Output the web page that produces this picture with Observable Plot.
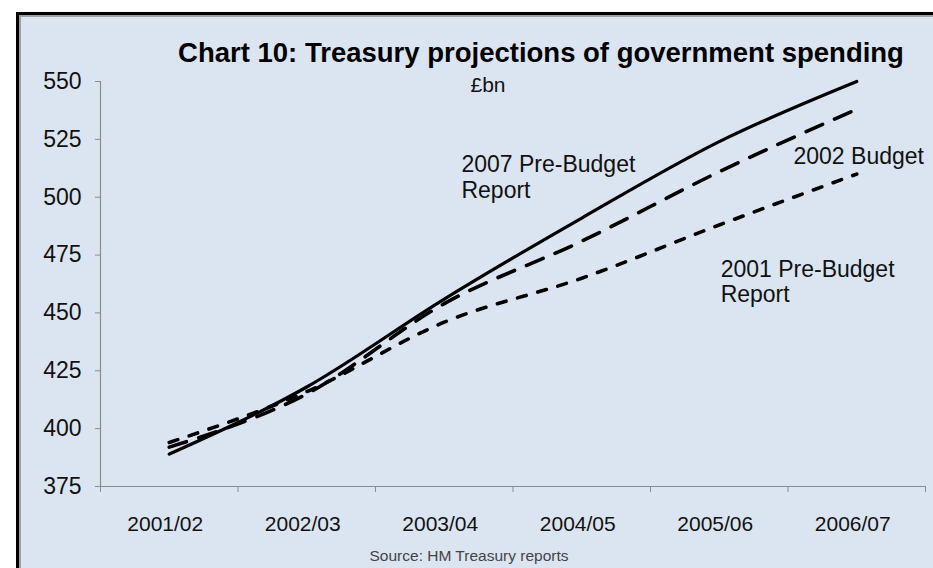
<!DOCTYPE html>
<html><head><meta charset="utf-8">
<script src="https://cdn.jsdelivr.net/npm/d3@7"></script>
<script src="https://cdn.jsdelivr.net/npm/@observablehq/plot@0.6"></script>
<style>
html,body{margin:0;padding:0;background:#fff;width:933px;height:568px;overflow:hidden;}
#panel{position:absolute;left:16px;top:12px;width:930px;height:570px;background:#dbe5f1;border-left:3px solid #000;border-top:3px solid #000;box-shadow:inset 2px 2px 0 #a0a0a0;}
#chart{position:absolute;left:0;top:0;}
</style></head><body><div id="panel"></div><div id="chart"></div>
<script>
const categories = ["2001/02", "2002/03", "2003/04", "2004/05", "2005/06", "2006/07"];
const pbr2007 = [389, 418, 456, 491, 524, 550];
const budget2002 = [392, 415, 454, 481, 511, 538];
const pbr2001 = [394, 416, 446, 465, 488, 510];
const yTicks = [375, 400, 425, 450, 475, 500, 525, 550];
const title = "Chart 10: Treasury projections of government spending";
const unit = "£bn";
const source = "Source: HM Treasury reports";
const labels = [
  {i: 2.125, v: 518.5, text: "2007 Pre-Budget\nReport"},
  {i: 4.54, v: 522, text: "2002 Budget"},
  {i: 4.01, v: 473.3, text: "2001 Pre-Budget\nReport"}
];

const toRows = arr => arr.map((v, i) => ({i, v}));
const boundaries = d3.range(categories.length + 1).map(k => k - 0.5);
const centers = d3.range(categories.length);
const axisGray = "#8c8c8c";

const chart = Plot.plot({
  width: 933,
  height: 568,
  marginLeft: 100,
  marginRight: 8,
  marginTop: 81,
  marginBottom: 82,
  style: {fontFamily: "'Liberation Sans', Arial, sans-serif", background: "transparent", color: "#111"},
  x: {type: "linear", domain: [-0.5, categories.length - 0.5], nice: false},
  y: {domain: [375, 550], nice: false},
  marks: [
    Plot.ruleY([375], {stroke: axisGray, strokeWidth: 1.2}),
    Plot.ruleX([-0.5], {y1: 375, y2: 550, stroke: axisGray, strokeWidth: 1.2}),
    Plot.axisY({ticks: yTicks, tickSize: 5, tickPadding: 14, fontSize: 23, label: null, stroke: axisGray, fill: "#111"}),
    Plot.axisX({ticks: boundaries, tickSize: 6, tickFormat: () => "", label: null, stroke: axisGray}),
    Plot.axisX({ticks: centers, tickSize: 0, tickPadding: 30, dx: -4, tickFormat: i => categories[i], fontSize: 21, label: null, fill: "#111"}),
    Plot.line(toRows(pbr2001), {x: "i", y: "v", curve: "monotone-x", stroke: "#000", strokeWidth: 3.6, strokeDasharray: "9,12", strokeLinecap: "round"}),
    Plot.line(toRows(budget2002), {x: "i", y: "v", curve: "monotone-x", stroke: "#000", strokeWidth: 3.6, strokeDasharray: "18,13", strokeLinecap: "round"}),
    Plot.line(toRows(pbr2007), {x: "i", y: "v", curve: "monotone-x", stroke: "#000", strokeWidth: 3.2, strokeLinecap: "round"}),
    Plot.text(labels, {x: "i", y: "v", text: "text", textAnchor: "start", lineAnchor: "top", fontSize: 23, lineHeight: 1.1, fill: "#111"}),
    Plot.text([title], {frameAnchor: "top", dx: 28, dy: -39, lineAnchor: "top", fontSize: 27.5, fontWeight: "bold", fill: "#000"}),
    Plot.text([unit], {frameAnchor: "top", dx: -25, dy: 4, lineAnchor: "middle", fontSize: 21, fill: "#111"}),
    Plot.text([source], {frameAnchor: "bottom", dx: -44, dy: 70, lineAnchor: "middle", fontSize: 15.5, fill: "#444"})
  ]
});
document.getElementById("chart").appendChild(chart);
</script></body></html>
